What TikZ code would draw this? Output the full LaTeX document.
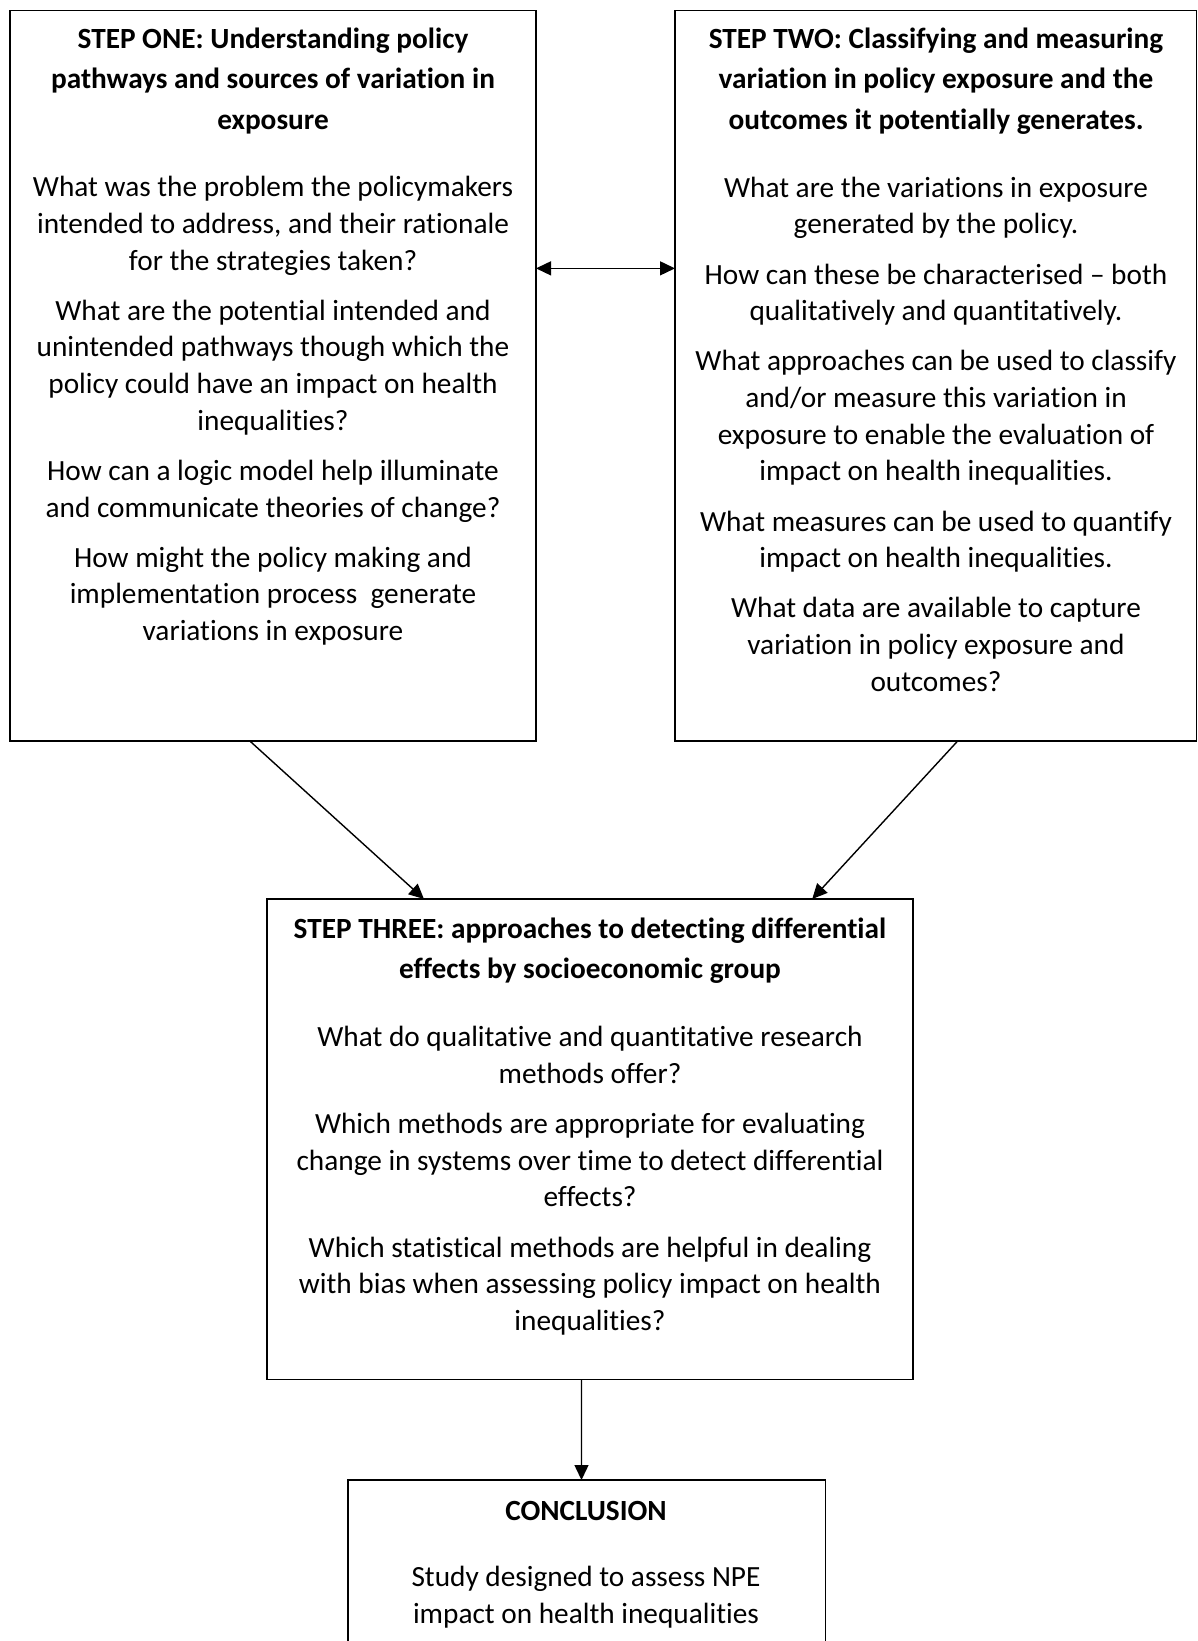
\documentclass[tikz,border=0pt]{standalone}
\usepackage{fontspec}
\setmainfont{Carlito}[Ligatures=NoCommon]
\usetikzlibrary{arrows.meta,calc}
\tikzset{
  boxst/.style={draw=black,line width=1.8pt,inner sep=0pt,outer sep=0pt,anchor=north west},
  body/.style={inner sep=0pt,anchor=base,font=\fontsize{29.3}{36.6}\selectfont},
  ttl/.style={inner sep=0pt,anchor=base,font=\fontsize{29.3}{36.6}\selectfont\bfseries},
  conn/.style={line width=1.4pt,-{Triangle[length=15pt,width=14pt]}},
  dconn/.style={line width=1.4pt,{Triangle[length=15pt,width=14pt]}-{Triangle[length=15pt,width=14pt]}}
}
\begin{document}
\begin{tikzpicture}[x=1pt,y=-1pt]
\useasboundingbox (0,0) rectangle (1198,1641);
\clip (0,0) rectangle (1198,1641);
\fill[white] (0,0) rectangle (1198,1641);
% boxes
\node[boxst,minimum width=526pt,minimum height=730.5pt] (s1) at (10,10.5) {};
\node[boxst,minimum width=521.5pt,minimum height=730.5pt] (s2) at (675,10.5) {};
\node[boxst,minimum width=646pt,minimum height=480.5pt] (s3) at (267,899) {};
\node[boxst,minimum width=477.5pt,minimum height=260pt] (s4) at (348,1480) {};
% box 1 text
\foreach \lyy/\ltxt [count=\i] in {48.5/{STEP ONE: Understanding policy},88.5/{pathways and sources of variation in},129.5/{exposure}}
  {\node[ttl] (h1\i) at (273,\lyy) {\ltxt};}
\foreach \lyy/\ltxt [count=\i] in {196.8/{What was the problem the policymakers},233.4/{intended to address, and their rationale},270/{for the strategies taken?},320.3/{What are the potential intended and},356.9/{unintended pathways though which the},393.5/{policy could have an impact on health},430.1/{inequalities?},480.4/{How can a logic model help illuminate},517/{and communicate theories of change?},567.3/{How might the policy making and},603.9/{implementation process\ \ generate},640.5/{variations in exposure}}
  {\node[body] (b1\i) at (273,\lyy) {\ltxt};}
% box 2 text
\foreach \lyy/\ltxt [count=\i] in {48.5/{STEP TWO: Classifying and measuring},88.5/{variation in policy exposure and the},129.5/{outcomes it potentially generates.}}
  {\node[ttl] (h2\i) at (936,\lyy) {\ltxt};}
\foreach \lyy/\ltxt [count=\i] in {197/{What are the variations in exposure},233.6/{generated by the policy.},284/{How can these be characterised – both},320.6/{qualitatively and quantitatively.},370.9/{What approaches can be used to classify},407.5/{and/or measure this variation in},444.1/{exposure to enable the evaluation of},480.7/{impact on health inequalities.},531/{What measures can be used to quantify},567.6/{impact on health inequalities.},617.9/{What data are available to capture},654.5/{variation in policy exposure and},691.1/{outcomes?}}
  {\node[body] (b2\i) at (936,\lyy) {\ltxt};}
% box 3 text
\foreach \lyy/\ltxt [count=\i] in {938/{STEP THREE: approaches to detecting differential},978.5/{effects by socioeconomic group}}
  {\node[ttl] (h3\i) at (590,\lyy) {\ltxt};}
\foreach \lyy/\ltxt [count=\i] in {1046.5/{What do qualitative and quantitative research},1083/{methods offer?},1133.5/{Which methods are appropriate for evaluating},1170/{change in systems over time to detect differential},1206.5/{effects?},1257/{Which statistical methods are helpful in dealing},1293.5/{with bias when assessing policy impact on health},1330/{inequalities?}}
  {\node[body] (b3\i) at (590,\lyy) {\ltxt};}
% box 4 text
\node[ttl] (h41) at (586,1520) {CONCLUSION};
\node[body] (b41) at (586,1586.5) {Study designed to assess NPE};
\node[body] (b42) at (586,1623) {impact on health inequalities};
% connectors
\draw[dconn] ($(s1.north east)!0.353!(s1.south east)$) -- ($(s2.north west)!0.353!(s2.south west)$);
\draw[conn] ($(s1.south west)!0.456!(s1.south east)$) -- ($(s3.north west)!0.243!(s3.north east)$);
\draw[conn] ($(s2.south west)!0.542!(s2.south east)$) -- ($(s3.north west)!0.844!(s3.north east)$);
\draw[conn] ($(s3.south west)!0.4868!(s3.south east)$) -- ($(s4.north west)!0.489!(s4.north east)$);
\end{tikzpicture}
\end{document}
